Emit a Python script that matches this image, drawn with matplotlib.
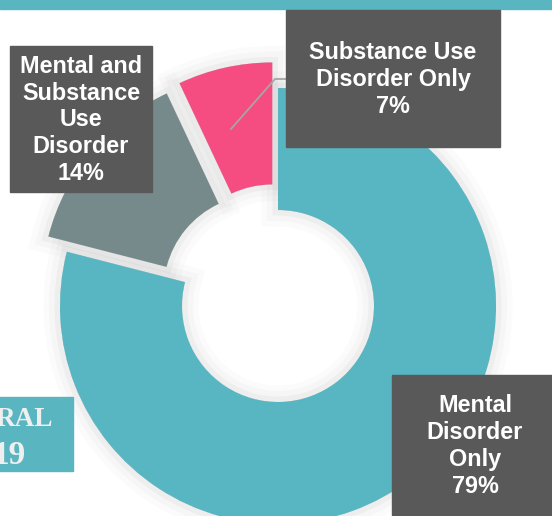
import matplotlib
matplotlib.use('Agg')
import matplotlib.pyplot as plt
import matplotlib.patheffects as pe
from matplotlib.patches import Rectangle

# data (clockwise from 12 o'clock)
categories = ['Mental\nDisorder\nOnly', 'Mental and\nSubstance\nUse\nDisorder', 'Substance Use\nDisorder Only']
shares = [79, 14, 7]
colors = ['#57B6C1', '#778A8B', '#F54D82']
explode = [0, 0.11, 0.12]   # fraction of the outer radius

W, H = 552, 516
fig = plt.figure(figsize=(W / 100, H / 100), dpi=100)
ax = fig.add_axes([0, 0, 1, 1])

cx, cy, R, r_in = 278, H - 306, 218, 96
expl_px = [e * R for e in explode]

# soft shadow under the slices
sh, _ = ax.pie(shares, colors=['#e4e4e4'] * 3, explode=expl_px, startangle=90,
               counterclock=False, center=(cx, cy), radius=R, frame=True,
               wedgeprops=dict(width=R - r_in, linewidth=0))
for w in sh:
    w.set_zorder(1)
    w.set_path_effects([pe.Stroke(linewidth=24, foreground=(0, 0, 0, 0.014)),
                        pe.Stroke(linewidth=16, foreground=(0, 0, 0, 0.02)),
                        pe.Stroke(linewidth=8, foreground=(0, 0, 0, 0.03))])

wedges, _ = ax.pie(shares, colors=colors, explode=expl_px, startangle=90,
                   counterclock=False, center=(cx, cy), radius=R, frame=True,
                   wedgeprops=dict(width=R - r_in, linewidth=0))
for w in wedges:
    w.set_zorder(2)

ax.set_xlim(0, W)
ax.set_ylim(0, H)
ax.set_aspect('equal')
ax.axis('off')

# top bar
ax.add_patch(Rectangle((0, H - 8.5), W, 8.5, color='#59B6C1', zorder=5))

# leader line for the small slice
ax.plot([231, 275, 286], [H - 129, H - 79, H - 79], color='#A6A6A6', lw=1.3, zorder=3)

# label boxes (x0, y_top, x1, y_bottom) in pixels
boxes = [(392, 375, 558, 515), (10, 46, 152, 192), (286, 10, 500, 147)]
for (x0, y0, x1, y1), name, val in zip(boxes, categories, shares):
    ax.add_patch(Rectangle((x0, H - y1), x1 - x0, y1 - y0, color='#595959', zorder=6))
    ax.text((x0 + x1) / 2, H - (y0 + y1) / 2 - 1, f'{name}\n{val}%', color='white',
            fontsize=16.8, fontweight='bold', family='Liberation Sans',
            ha='center', va='center', linespacing=1.22, zorder=7)

# partial title box at bottom-left
ax.add_patch(Rectangle((-10, H - 471), 83, 74, color='#59B6C1', zorder=6))
ax.text(53, H - 419, 'RAL', color='#EFEFEF', fontsize=19.5, fontweight='bold',
        family='Liberation Serif', ha='right', va='center', zorder=7)
ax.text(26, H - 455, '19', color='#EFEFEF', fontsize=24, fontweight='bold',
        family='Liberation Serif', ha='right', va='center', zorder=7)

fig.savefig('out.png', dpi=100)
